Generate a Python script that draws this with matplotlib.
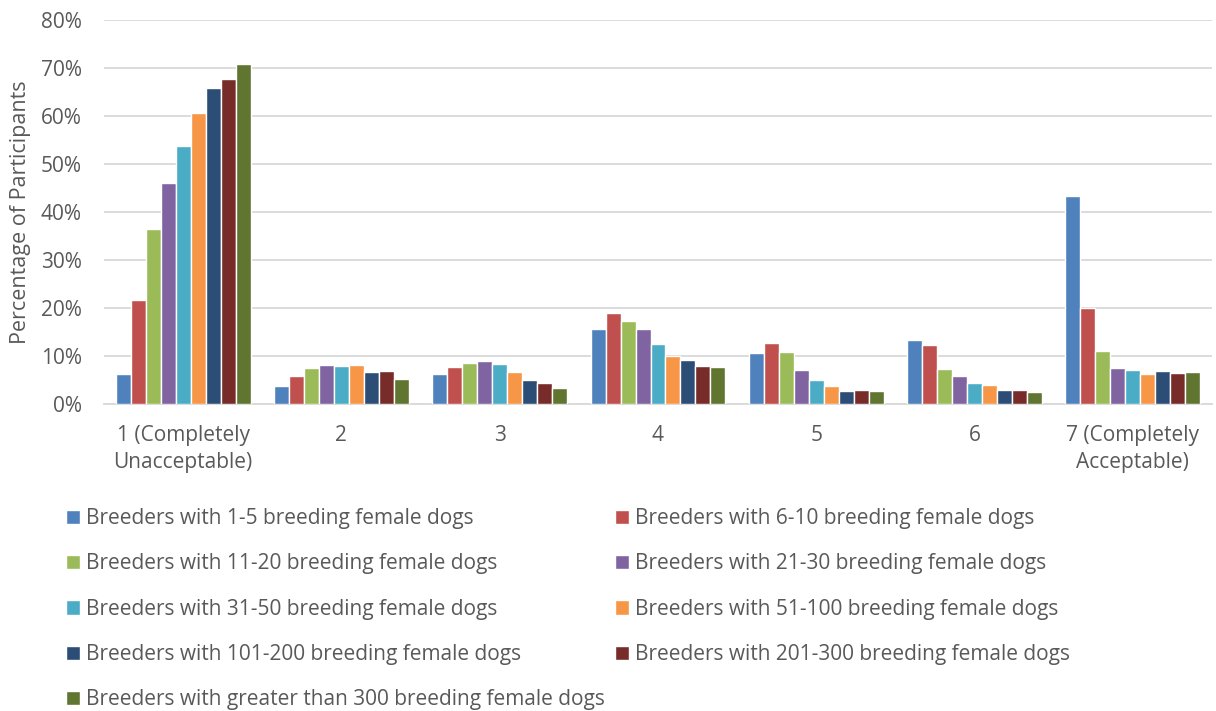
import matplotlib.pyplot as plt
import numpy as np

# Acceptability ratings (1-7) by breeder size
categories = ['1 (Completely\nUnacceptable)', '2', '3', '4', '5', '6',
              '7 (Completely\nAcceptable)']

series_labels = [
    'Breeders with 1-5 breeding female dogs',
    'Breeders with 6-10 breeding female dogs',
    'Breeders with 11-20 breeding female dogs',
    'Breeders with 21-30 breeding female dogs',
    'Breeders with 31-50 breeding female dogs',
    'Breeders with 51-100 breeding female dogs',
    'Breeders with 101-200 breeding female dogs',
    'Breeders with 201-300 breeding female dogs',
    'Breeders with greater than 300 breeding female dogs',
]

# percentages per rating, one list per breeder group
b_1_5 = [6.3, 3.7, 6.3, 15.7, 10.6, 13.3, 43.3]
b_6_10 = [21.6, 5.8, 7.7, 19.0, 12.7, 12.2, 20.1]
b_11_20 = [36.5, 7.5, 8.5, 17.2, 10.8, 7.3, 11.1]
b_21_30 = [46.0, 8.1, 9.0, 15.6, 7.0, 5.9, 7.5]
b_31_50 = [53.7, 7.9, 8.3, 12.5, 5.1, 4.4, 7.0]
b_51_100 = [60.6, 8.1, 6.7, 9.9, 3.7, 4.0, 6.3]
b_101_200 = [65.8, 6.7, 5.0, 9.2, 2.7, 2.9, 6.9]
b_201_300 = [67.7, 6.9, 4.3, 7.9, 2.9, 2.9, 6.5]
b_300_plus = [70.8, 5.2, 3.3, 7.8, 2.8, 2.5, 6.7]

series_values = [b_1_5, b_6_10, b_11_20, b_21_30, b_31_50, b_51_100,
                 b_101_200, b_201_300, b_300_plus]

colors = ['#4F81BD', '#C0504D', '#9BBB59', '#8064A2', '#4BACC6',
          '#F79646', '#2C4D75', '#772C2A', '#5F7530']

plt.rcParams['font.family'] = ['Open Sans', 'DejaVu Sans']
text_gray = '#595959'
grid_gray = '#D9D9D9'

fig = plt.figure(figsize=(12.16, 7.11), dpi=100)
ax = fig.add_axes([104 / 1216, 1 - 404 / 711, 1108 / 1216, 384 / 711])

x = np.arange(len(categories))
slot = 0.0946
bars = []
for i, (vals, col) in enumerate(zip(series_values, colors)):
    offset = (i - 4) * slot
    b = ax.bar(x + offset, vals, width=slot, color=col,
               edgecolor='white', linewidth=1.0, label=series_labels[i],
               zorder=3)
    bars.append(b)

ax.set_xlim(-0.5, len(categories) - 0.5)
ax.set_ylim(0, 80)
ax.set_yticks(np.arange(0, 81, 10))
ax.set_yticklabels([f'{v}%' for v in range(0, 81, 10)])
ax.set_xticks(x)
ax.set_xticklabels(categories, linespacing=1.4)

ax.yaxis.grid(True, color=grid_gray, linewidth=1.3, zorder=0)
ax.set_axisbelow(True)
for side in ['top', 'right', 'left']:
    ax.spines[side].set_visible(False)
ax.spines['bottom'].set_color(grid_gray)
ax.spines['bottom'].set_linewidth(1.3)
ax.tick_params(axis='both', length=0, colors=text_gray, labelsize=15)
ax.tick_params(axis='y', pad=16)
ax.tick_params(axis='x', pad=15)

ax.set_ylabel('Percentage of Participants', color=text_gray, fontsize=15.5,
              labelpad=7)

# two legend columns laid out row by row
leg_kw = dict(frameon=False, fontsize=15, handlelength=0.67,
              handleheight=0.67, handletextpad=0.3, labelspacing=1.17,
              borderaxespad=0, borderpad=0, labelcolor=text_gray)
left_idx = [0, 2, 4, 6, 8]
right_idx = [1, 3, 5, 7]
fig.legend([bars[i] for i in left_idx],
           [series_labels[i] for i in left_idx],
           loc='upper left', bbox_to_anchor=(66 / 1216, 1 - 508 / 711),
           **leg_kw)
fig.legend([bars[i] for i in right_idx],
           [series_labels[i] for i in right_idx],
           loc='upper left', bbox_to_anchor=(615 / 1216, 1 - 508 / 711),
           **leg_kw)

fig.savefig('out.png', dpi=100, facecolor='white')
